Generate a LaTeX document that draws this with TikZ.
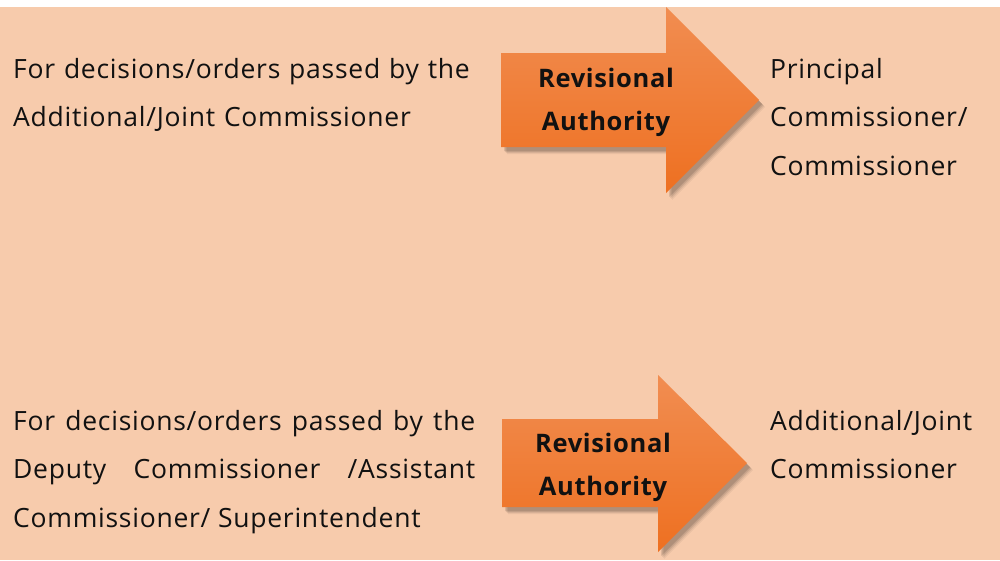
\documentclass[tikz,border=0pt]{standalone}
\usepackage{fontspec}
\setmainfont{Open Sans}
\definecolor{peach}{HTML}{F7CBAC}
\definecolor{otop}{HTML}{F18D51}
\definecolor{obot}{HTML}{EE7021}
\definecolor{ink}{HTML}{111111}
\tikzset{
  plain/.style={anchor=base west, inner sep=0pt, text=ink, text width=470pt, font=\fontsize{26.5}{48.5}\selectfont\addfontfeatures{LetterSpace=2.8}},
  arrowlabel/.style={inner sep=0pt, align=center, text width=180pt, text=ink, font=\fontsize{25.5}{43.5}\selectfont\bfseries\addfontfeatures{LetterSpace=2.6}},
  arrowfill/.style={top color=otop, bottom color=obot, draw=none},
  shadowfill/.style={fill=black, draw=none}
}
\begin{document}
\begin{tikzpicture}[x=1pt,y=-1pt]
\useasboundingbox (0,0) rectangle (1000,560);
\fill[white] (0,0) rectangle (1000,560);
\fill[peach] (0,7) rectangle (1000,560);
% arrow 1
\foreach \dx/\dy/\op in {6/7/0.05,5/6/0.07,4/5/0.09,3/4/0.11}{
  \fill[shadowfill, opacity=\op, shift={(\dx,\dy)}] (501,53) -- (666,53) -- (666,7) -- (759,100) -- (666,193) -- (666,147) -- (501,147) -- cycle;
}
\shade[arrowfill] (501,53) -- (666,53) -- (666,7) -- (759,100) -- (666,193) -- (666,147) -- (501,147) -- cycle;
% arrow 2
\foreach \dx/\dy/\op in {6/7/0.05,5/6/0.07,4/5/0.09,3/4/0.11}{
  \fill[shadowfill, opacity=\op, shift={(\dx,\dy)}] (502,419) -- (658,419) -- (658,375) -- (747,463) -- (658,552) -- (658,507) -- (502,507) -- cycle;
}
\shade[arrowfill] (502,419) -- (658,419) -- (658,375) -- (747,463) -- (658,552) -- (658,507) -- (502,507) -- cycle;
% labels in arrows
\node[arrowlabel, anchor=base] (ra1) at (606,87) {Revisional\\Authority};
\node[arrowlabel, anchor=base] (ra2) at (603,452) {Revisional\\Authority};
% left texts
\node[plain, align=left] (l1) at (13,78) {For decisions/orders passed by the\\Additional/Joint Commissioner};
\node[plain, text width=462pt, align=justify] (l2) at (13,430) {For decisions/orders passed by the\linebreak Deputy Commissioner /Assistant\linebreak Commissioner/ Superintendent};
% right texts
\node[plain, text width=225pt, align=left] (r1) at (770,78) {Principal\\Commissioner/\\Commissioner};
\node[plain, text width=225pt, align=left] (r2) at (770,430) {Additional/Joint\\Commissioner};
\end{tikzpicture}
\end{document}
